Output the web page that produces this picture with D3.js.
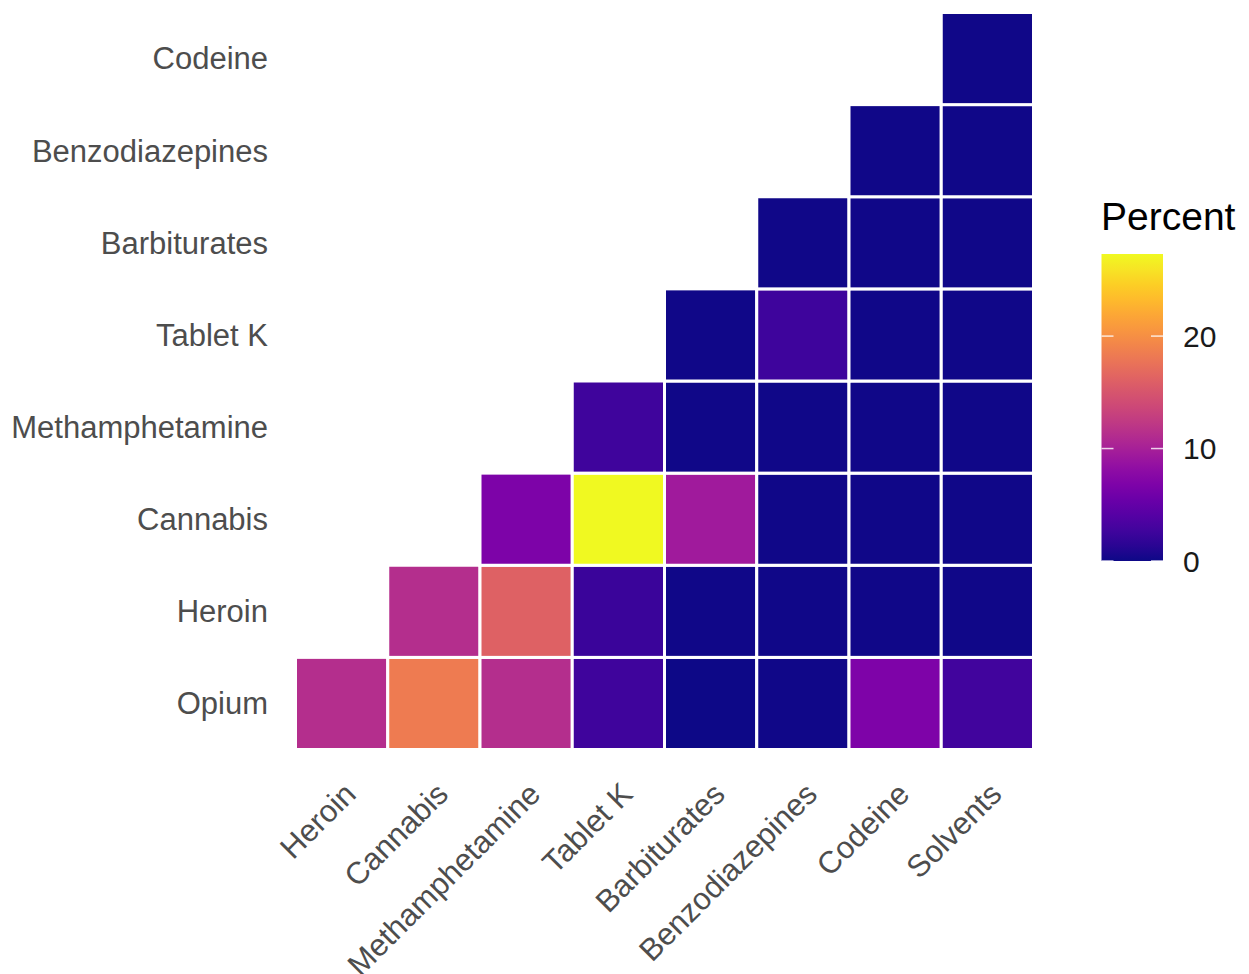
<!DOCTYPE html>
<html>
<head>
<meta charset="utf-8">
<script src="https://cdn.jsdelivr.net/npm/d3@7"></script>
<style>
  html, body { margin: 0; padding: 0; background: #ffffff; }
  svg { display: block; font-family: "Liberation Sans", Arial, sans-serif; }
</style>
</head>
<body>
<svg id="chart" width="1249" height="974"></svg>
<script>
// ---- Data ----
const xCategories = ["Heroin", "Cannabis", "Methamphetamine", "Tablet K", "Barbiturates", "Benzodiazepines", "Codeine", "Solvents"];
const yCategories = ["Opium", "Heroin", "Cannabis", "Methamphetamine", "Tablet K", "Barbiturates", "Benzodiazepines", "Codeine"];
// each row: values for columns starting at the same index as the row (lower triangle incl. diagonal)
const opiumRow = [11.2, 18.4, 11.3, 2.6, 0.0, 0.2, 6.9, 2.7];
const heroinRow = [11.3, 16.1, 2.3, 0.2, 0.2, 0.2, 0.2];
const cannabisRow = [6.8, 27.3, 9.4, 0.2, 0.2, 0.2];
const methamphetamineRow = [2.6, 0.2, 0.2, 0.2, 0.2];
const tabletKRow = [0.2, 2.5, 0.2, 0.2];
const barbituratesRow = [0.2, 0.2, 0.2];
const benzodiazepinesRow = [0.2, 0.2];
const codeineRow = [0.2];
const legendTicks = [0, 10, 20];
const legendTitle = "Percent";

const rows = [opiumRow, heroinRow, cannabisRow, methamphetamineRow, tabletKRow, barbituratesRow, benzodiazepinesRow, codeineRow];
const cells = [];
rows.forEach((row, i) => {
  row.forEach((v, k) => {
    cells.push({ y: yCategories[i], x: xCategories[i + k], value: v });
  });
});

// ---- Layout ----
const svg = d3.select("#chart");
const panel = { left: 295.5, right: 1033.5, top: 12.5, bottom: 749.5 };

const x = d3.scaleBand().domain(xCategories).range([panel.left, panel.right]).padding(0);
const y = d3.scaleBand().domain(yCategories).range([panel.bottom, panel.top]).padding(0);

const vMin = d3.min(cells, d => d.value);
const vMax = d3.max(cells, d => d.value);
const color = d3.scaleSequential(d3.interpolatePlasma).domain([vMin, vMax]);

// ---- Cells ----
svg.append("g").selectAll("rect")
  .data(cells)
  .join("rect")
  .attr("x", d => x(d.x))
  .attr("y", d => y(d.y))
  .attr("width", x.bandwidth())
  .attr("height", y.bandwidth())
  .attr("fill", d => color(d.value))
  .attr("stroke", "#ffffff")
  .attr("stroke-width", 3);

// ---- Axes ----
const axisFont = 31;
const yAxis = d3.axisLeft(y).tickSize(0).tickPadding(0);
const gy = svg.append("g").attr("transform", `translate(268,0)`).call(yAxis);
gy.select(".domain").remove();
gy.selectAll("text")
  .attr("font-size", axisFont)
  .attr("fill", "#4d4d4d")
  .attr("font-family", "Liberation Sans, Arial, sans-serif")
  .attr("dy", "0.35em");

const xAxis = d3.axisBottom(x).tickSize(0).tickPadding(0);
const gx = svg.append("g").call(xAxis);
gx.select(".domain").remove();
gx.selectAll(".tick").attr("transform", d => `translate(${x(d) + x.bandwidth() / 2 + 16},796)`);
gx.selectAll("text")
  .attr("font-size", axisFont)
  .attr("fill", "#4d4d4d")
  .attr("font-family", "Liberation Sans, Arial, sans-serif")
  .attr("text-anchor", "end")
  .attr("x", 0)
  .attr("y", 0)
  .attr("dy", 0)
  .attr("transform", "rotate(-45)");

// ---- Legend ----
const bar = { x: 1101.5, width: 61.5, top: 254, bottom: 561 };
const legendScale = d3.scaleLinear().domain([vMin, vMax]).range([bar.bottom, bar.top]);

const defs = svg.append("defs");
const grad = defs.append("linearGradient")
  .attr("id", "plasmaGrad")
  .attr("x1", 0).attr("y1", 1).attr("x2", 0).attr("y2", 0);
d3.range(0, 1.0001, 0.05).forEach(t => {
  grad.append("stop").attr("offset", t).attr("stop-color", d3.interpolatePlasma(t));
});

svg.append("rect")
  .attr("x", bar.x)
  .attr("y", bar.top)
  .attr("width", bar.width)
  .attr("height", bar.bottom - bar.top)
  .attr("fill", "url(#plasmaGrad)");

const tickLen = 12;
const lg = svg.append("g");
legendTicks.forEach(t => {
  const ty = legendScale(t);
  lg.append("line")
    .attr("x1", bar.x).attr("x2", bar.x + tickLen)
    .attr("y1", ty).attr("y2", ty)
    .attr("stroke", "#ffffff").attr("stroke-width", 1.5).attr("opacity", 0.8);
  lg.append("line")
    .attr("x1", bar.x + bar.width - tickLen).attr("x2", bar.x + bar.width)
    .attr("y1", ty).attr("y2", ty)
    .attr("stroke", "#ffffff").attr("stroke-width", 1.5).attr("opacity", 0.8);
  lg.append("text")
    .attr("x", 1183)
    .attr("y", ty)
    .attr("dy", "0.36em")
    .attr("font-size", 30)
    .attr("fill", "#1a1a1a")
    .text(t);
});

svg.append("text")
  .attr("x", 1101)
  .attr("y", 230)
  .attr("font-size", 39)
  .attr("fill", "#000000")
  .text(legendTitle);
</script>
</body>
</html>
